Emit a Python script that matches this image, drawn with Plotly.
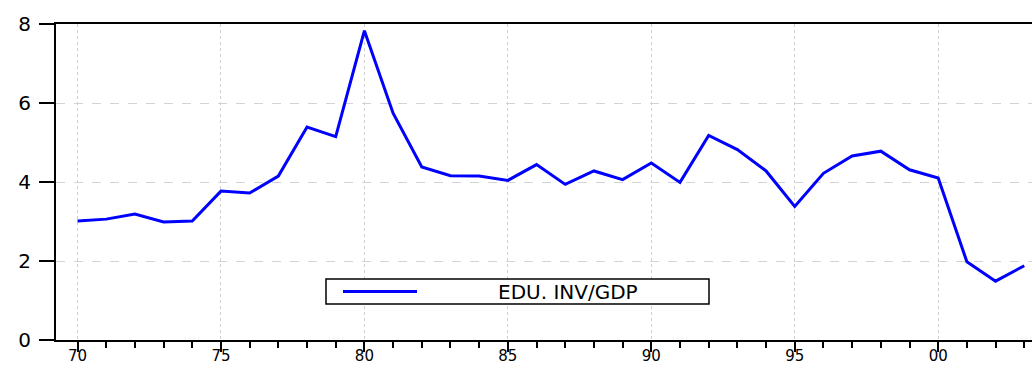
import plotly.graph_objects as go

years = list(range(1970, 2004))
edu_inv_gdp = [3.01, 3.06, 3.19, 2.99, 3.01, 3.77, 3.72, 4.15, 5.39, 5.15,
               7.83, 5.74, 4.38, 4.16, 4.15, 4.04, 4.44, 3.94, 4.28, 4.06,
               4.48, 3.99, 5.18, 4.82, 4.28, 3.38, 4.22, 4.66, 4.78, 4.31,
               4.10, 1.98, 1.49, 1.88]
x_tick_vals = [1970, 1975, 1980, 1985, 1990, 1995, 2000]
x_tick_text = ["70", "75", "80", "85", "90", "95", "00"]
y_tick_vals = [0, 2, 4, 6, 8]
series_name = "EDU. INV/GDP"

FONT = "DejaVu Sans"

fig = go.Figure()
fig.add_trace(go.Scatter(
    x=years, y=edu_inv_gdp, mode="lines", name=series_name,
    line=dict(color="#0000FF", width=3), showlegend=False,
))

fig.update_layout(
    width=1032, height=365,
    margin=dict(l=56, r=0, t=24, b=25, autoexpand=False),
    paper_bgcolor="white", plot_bgcolor="white",
    showlegend=False,
    xaxis=dict(
        range=[1969.25, 2003.27],
        automargin=False,
        tickvals=x_tick_vals, ticktext=x_tick_text,
        ticks="outside", ticklen=10, tickwidth=2, tickcolor="black",
        ticklabelstandoff=-9,
        showline=True, linecolor="black", linewidth=2, mirror=True,
        showgrid=True, gridcolor="#cfcfcf", gridwidth=1, griddash="dot",
        zeroline=False,
        minor=dict(dtick=1, tick0=1970, ticks="outside", ticklen=6,
                   tickwidth=2, tickcolor="black", showgrid=False),
        tickfont=dict(family=FONT, size=15, color="black"),
    ),
    yaxis=dict(
        range=[0, 8],
        automargin=False,
        tickvals=y_tick_vals,
        ticks="outside", ticklen=15, tickwidth=2, tickcolor="black",
        ticklabelstandoff=4,
        showline=True, linecolor="black", linewidth=2, mirror=False,
        showgrid=True, gridcolor="#d3d3d3", gridwidth=1, griddash="dash",
        zeroline=False,
        tickfont=dict(family=FONT, size=20, color="black"),
    ),
)

# Legend box drawn in-plot (EViews style)
pw = 976.0
ph = 316.0
def px(xp):
    return (xp - 56) / pw
def py(yp):
    return (340 - yp) / ph

fig.add_shape(type="rect", xref="paper", yref="paper",
              x0=px(326), x1=px(709), y0=py(304), y1=py(279),
              line=dict(color="black", width=1.5), fillcolor="white")
fig.add_shape(type="line", xref="paper", yref="paper",
              x0=px(343), x1=px(417), y0=py(291.5), y1=py(291.5),
              line=dict(color="#0000FF", width=3))
fig.add_annotation(xref="paper", yref="paper", x=px(568), y=py(291.5),
                   text=series_name, showarrow=False,
                   xanchor="center", yanchor="middle",
                   font=dict(family=FONT, size=20, color="black"))

fig.write_html("out.html",
               config={"displayModeBar": False},
               post_script="document.body.style.margin='0';document.body.style.overflow='hidden';")
